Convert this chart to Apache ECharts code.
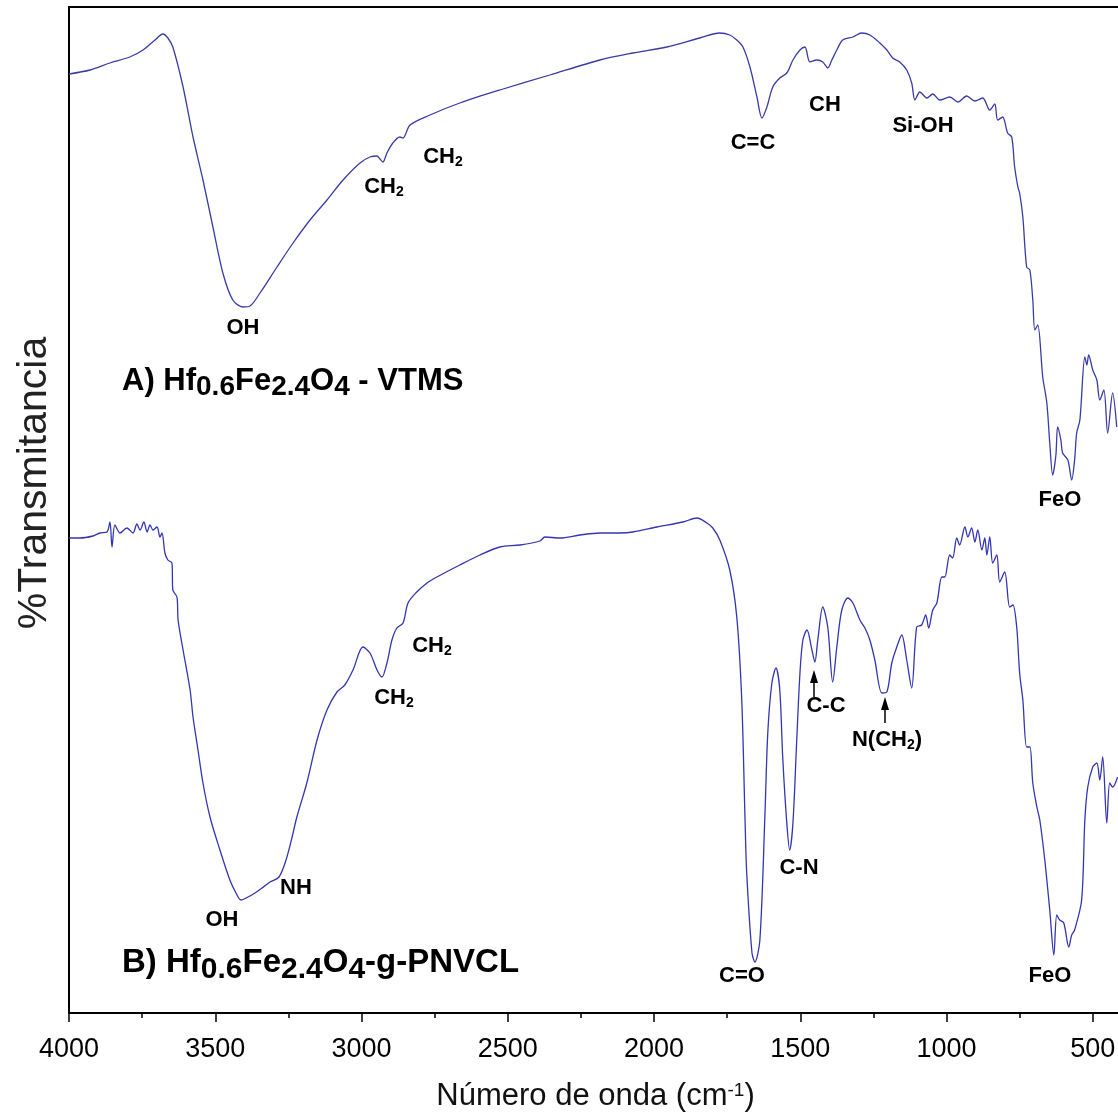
<!DOCTYPE html>
<html>
<head>
<meta charset="utf-8">
<script src="https://cdn.jsdelivr.net/npm/echarts@6/dist/echarts.min.js"></script>
<style>html,body{margin:0;padding:0;background:#fff}#c{width:1118px;height:1118px}</style>
</head>
<body>
<div id="c"></div>
<script>
// Wavenumber (cm-1) / transmittance (arbitrary units)
const spectrumA = [[4000,93.9],[3928,94.3],[3860,95.0],[3792,95.6],[3747,96.3],[3706,97.3],[3679,97.9],[3662,97.5],[3645,96.6],[3610,92.6],[3576,87.6],[3542,83.3],[3508,78.6],[3474,74.0],[3440,71.3],[3405,70.6],[3381,70.7],[3347,72.0],[3289,74.6],[3234,77.0],[3176,79.3],[3118,81.3],[3063,83.3],[3005,85.0],[2971,85.6],[2947,85.7],[2937,85.4],[2927,85.1],[2913,86.0],[2893,87.0],[2869,87.6],[2858,87.5],[2834,88.8],[2766,89.8],[2664,91.0],[2527,92.3],[2356,93.8],[2185,95.3],[2072,96.0],[1956,96.6],[1843,97.5],[1775,98.0],[1741,97.8],[1717,97.3],[1696,96.6],[1672,94.6],[1648,91.6],[1631,89.5],[1614,90.6],[1594,92.6],[1570,93.5],[1546,94.0],[1525,95.3],[1501,96.3],[1484,96.6],[1467,95.1],[1443,95.3],[1423,95.1],[1406,94.5],[1392,95.3],[1375,96.3],[1355,97.3],[1320,97.6],[1290,98.0],[1262,97.8],[1228,97.0],[1204,96.3],[1184,95.5],[1160,95.1],[1136,94.3],[1119,93.0],[1108,91.3],[1091,92.1],[1067,91.5],[1047,91.9],[1023,91.3],[989,91.6],[961,91.1],[931,91.7],[903,91.2],[876,91.5],[852,90.3],[835,90.9],[825,89.3],[808,89.6],[791,88.0],[777,87.6],[767,84.6],[756,82.6],[750,82.0],[739,79.6],[726,74.6],[715,74.3],[705,71.3],[698,68.3],[688,68.8],[671,63.6],[657,61.0],[647,57.0],[637,53.8],[626,55.8],[620,58.6],[609,57.3],[603,56.0],[585,55.3],[572,53.3],[562,55.3],[555,58.0],[544,59.3],[527,65.6],[520,64.8],[514,65.8],[500,64.3],[486,63.3],[476,61.3],[462,62.3],[449,58.0],[432,62.0],[418,58.6]];

const spectrumB = [[4000,47.5],[3962,47.5],[3918,47.7],[3894,48.0],[3870,48.1],[3860,49.1],[3853,46.6],[3843,48.8],[3826,48.0],[3802,48.5],[3781,48.0],[3768,48.9],[3757,48.3],[3744,49.1],[3733,48.1],[3723,48.8],[3713,48.3],[3699,48.6],[3689,47.6],[3682,48.0],[3672,46.0],[3662,45.3],[3648,45.0],[3645,42.3],[3631,41.6],[3627,39.3],[3610,36.3],[3586,32.3],[3576,29.6],[3559,26.3],[3542,23.0],[3518,19.6],[3484,16.3],[3450,13.3],[3429,12.0],[3412,11.3],[3388,11.6],[3364,12.0],[3340,12.5],[3313,13.1],[3282,13.6],[3258,15.3],[3238,17.5],[3221,19.6],[3187,23.0],[3152,27.3],[3118,30.3],[3084,32.1],[3057,32.8],[3029,34.3],[2995,36.6],[2971,36.0],[2947,34.3],[2930,33.6],[2913,35.0],[2896,37.3],[2879,38.5],[2858,39.0],[2841,41.0],[2811,42.1],[2776,43.0],[2742,43.6],[2664,44.8],[2595,45.8],[2527,46.6],[2458,46.8],[2390,47.2],[2373,47.6],[2322,47.5],[2253,47.8],[2185,48.0],[2117,48.0],[2072,48.1],[1990,48.6],[1901,49.1],[1853,49.5],[1819,49.0],[1799,48.5],[1775,47.3],[1741,44.3],[1717,39.6],[1700,31.3],[1689,19.6],[1683,14.0],[1665,6.0],[1655,5.1],[1638,7.3],[1621,19.6],[1611,28.0],[1597,33.0],[1583,34.5],[1570,32.3],[1560,25.6],[1546,19.0],[1536,16.3],[1525,19.0],[1512,27.3],[1501,34.0],[1491,37.3],[1477,38.3],[1460,36.3],[1450,35.1],[1440,37.3],[1423,40.6],[1406,38.6],[1389,33.1],[1375,36.6],[1358,40.3],[1337,41.5],[1320,41.0],[1296,39.3],[1279,38.5],[1262,37.3],[1245,35.3],[1221,32.0],[1204,32.1],[1187,35.0],[1170,36.6],[1153,37.8],[1136,35.3],[1119,32.5],[1102,38.6],[1085,38.8],[1071,39.8],[1061,38.5],[1047,40.3],[1033,41.0],[1016,43.6],[1006,43.6],[989,45.8],[979,45.5],[965,47.5],[955,46.8],[937,48.6],[927,47.6],[914,48.5],[903,47.1],[893,48.3],[879,46.3],[869,47.5],[862,45.8],[852,47.6],[842,45.0],[828,45.8],[818,43.1],[801,44.1],[784,40.6],[773,40.8],[760,38.6],[750,34.0],[739,31.3],[726,26.6],[715,26.6],[705,23.0],[691,20.6],[681,19.3],[664,15.3],[647,10.3],[633,5.8],[623,9.8],[613,9.3],[599,9.0],[582,6.6],[572,7.8],[562,8.3],[538,11.3],[527,19.3],[517,22.6],[500,24.6],[486,25.0],[476,23.3],[466,25.6],[452,19.0],[442,23.0],[432,22.6],[415,23.6]];

const majorTicks = [500,1000,1500,2000,2500,3000,3500,4000];
const minorTicks = [750,1250,1750,2250,2750,3250,3750];

const FONT = '"Liberation Sans", Arial, sans-serif';
const chart = echarts.init(document.getElementById('c'));

function lbl(text, x, y, size) {
  size = size || 22;
  return {
    type: 'text', x: x, y: y,
    style: {
      text: text, fill: '#000', align: 'center', verticalAlign: 'middle',
      rich: {
        b: {fontFamily: FONT, fontWeight: 'bold', fontSize: size, lineHeight: size + 4, verticalAlign: 'top', fill: '#000'},
        s: {fontFamily: FONT, fontWeight: 'bold', fontSize: Math.round(size * 0.65), lineHeight: size + 4, verticalAlign: 'top', padding: [Math.round(size * 0.42), 0, 0, 0], fill: '#000'}
      }
    }
  };
}
function sampleLabel(text, x, y, size) {
  return {
    type: 'text', x: x, y: y,
    style: {
      text: text, fill: '#000', align: 'left', verticalAlign: 'middle',
      rich: {
        m: {fontFamily: FONT, fontWeight: 'bold', fontSize: size, lineHeight: size + 4, verticalAlign: 'top', fill: '#000'},
        n: {fontFamily: FONT, fontWeight: 'bold', fontSize: size - 3, lineHeight: size + 4, verticalAlign: 'top', padding: [8, 0, 0, 0], fill: '#000'}
      }
    }
  };
}
function arrow(x, tip, base) {
  return [
    {type: 'line', shape: {x1: x, y1: tip + 10, x2: x, y2: base}, style: {stroke: '#000', lineWidth: 1.5}},
    {type: 'polygon', shape: {points: [[x, tip], [x - 4, tip + 13], [x + 4, tip + 13]]}, style: {fill: '#000'}}
  ];
}

const option = {
  backgroundColor: '#fff',
  animation: false,
  grid: {left: 69, top: 7, width: 1053, height: 1006, show: true, borderColor: '#000', borderWidth: 2,
         backgroundColor: 'transparent', containLabel: false, outerBoundsMode: 'none'},
  xAxis: [{
    type: 'value', min: 400, max: 4000, inverse: true, position: 'bottom',
    axisLine: {show: false}, splitLine: {show: false},
    axisTick: {show: true, customValues: majorTicks, length: 9, lineStyle: {color: '#000', width: 1.5}},
    axisLabel: {customValues: majorTicks, fontSize: 27, color: '#000', margin: 23, fontFamily: FONT,
                formatter: function (v) { return String(v); }},
    name: '{n|Número de onda (cm}{sup|-1}{n|)}', nameLocation: 'middle', nameGap: 68, nameMoveOverlap: false,
    nameTextStyle: {
      rich: {
        n: {fontSize: 31, fontFamily: FONT, color: '#111', lineHeight: 36, verticalAlign: 'top'},
        sup: {fontSize: 19, fontFamily: FONT, color: '#111', lineHeight: 20, verticalAlign: 'top'}
      }
    }
  }, {
    type: 'value', min: 400, max: 4000, inverse: true, position: 'bottom',
    axisLine: {show: false}, splitLine: {show: false},
    axisTick: {show: true, customValues: minorTicks, length: 5, lineStyle: {color: '#000', width: 1.5}},
    axisLabel: {show: false}
  }],
  yAxis: {
    type: 'value', min: 0, max: 100.6,
    axisLine: {show: false}, axisTick: {show: false}, axisLabel: {show: false}, splitLine: {show: false},
    name: '%Transmitancia', nameLocation: 'middle', nameGap: 14,
    nameTextStyle: {fontSize: 41, fontFamily: FONT, color: '#222', padding: [0, 0, 0, 54]}
  },
  series: [
    {type: 'line', data: spectrumA, showSymbol: false, symbol: 'none', smooth: 0.3, lineStyle: {color: '#3b3ba8', width: 1.3}, clip: true},
    {type: 'line', data: spectrumB, showSymbol: false, symbol: 'none', smooth: 0.3, lineStyle: {color: '#3434b4', width: 1.3}, clip: true}
  ],
  graphic: [
    lbl('{b|OH}', 243, 330),
    lbl('{b|CH}{s|2}', 384, 189),
    lbl('{b|CH}{s|2}', 443, 159),
    lbl('{b|C=C}', 753, 145),
    lbl('{b|CH}', 825, 107),
    lbl('{b|Si-OH}', 923, 128),
    lbl('{b|FeO}', 1060, 502),
    sampleLabel('{m|A) Hf}{n|0.6}{m|Fe}{n|2.4}{m|O}{n|4}{m| - VTMS}', 122, 383, 31),
    lbl('{b|OH}', 222, 922),
    lbl('{b|NH}', 296, 890),
    lbl('{b|CH}{s|2}', 394, 700),
    lbl('{b|CH}{s|2}', 432, 648),
    lbl('{b|C=O}', 742, 978),
    lbl('{b|C-N}', 799, 870),
    lbl('{b|C-C}', 826, 708),
    lbl('{b|N(CH}{s|2}{b|)}', 887, 742),
    lbl('{b|FeO}', 1050, 978),
    sampleLabel('{m|B) Hf}{n|0.6}{m|Fe}{n|2.4}{m|O}{n|4}{m|-g-PNVCL}', 122, 965, 33)
  ].concat(arrow(814, 670, 697)).concat(arrow(885, 697, 723))
};
chart.setOption(option);
</script>
</body>
</html>
